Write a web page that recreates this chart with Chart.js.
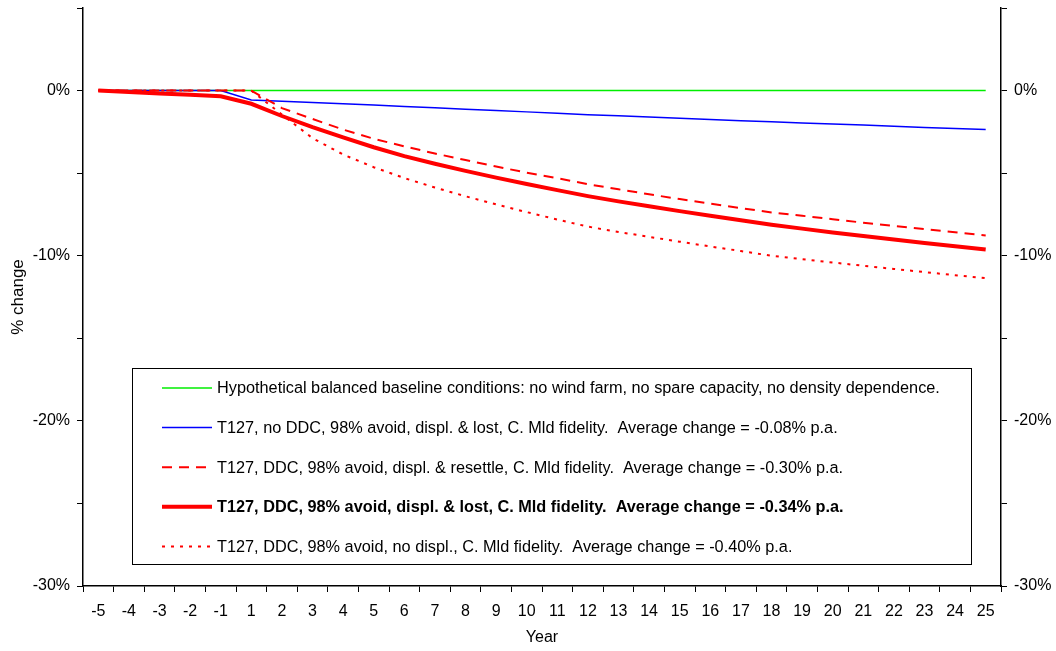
<!DOCTYPE html>
<html>
<head>
<meta charset="utf-8">
<script src="https://cdn.jsdelivr.net/npm/chart.js@4.4.1/dist/chart.umd.min.js"></script>
<style>
  html, body { margin: 0; padding: 0; background: #ffffff; }
  #wrap { width: 1056px; height: 651px; position: relative; }
</style>
</head>
<body>
<div id="wrap"><canvas id="c" width="1056" height="651"></canvas></div>
<script>
const years = ['-5','-4','-3','-2','-1','1','2','3','4','5','6','7','8','9','10','11','12','13','14','15','16','17','18','19','20','21','22','23','24','25'];

const baseline = [0,0,0,0,0, 0,0,0,0,0, 0,0,0,0,0, 0,0,0,0,0, 0,0,0,0,0, 0,0,0,0,0];

const noDdcLost = [0,0,0,0,0,
  -0.57,-0.65,-0.72,-0.80,-0.87,-0.96,-1.04,-1.13,-1.21,-1.29,-1.37,-1.46,
  -1.53,-1.60,-1.68,-1.75,-1.82,-1.89,-1.96,-2.03,-2.09,-2.16,-2.23,-2.29,-2.36];

const ddcResettle = [0,0,0,0,0,
  0,-1.06,-1.72,-2.36,-2.92,-3.38,-3.81,-4.21,-4.60,-4.97,-5.31,-5.67,
  -5.98,-6.28,-6.57,-6.85,-7.12,-7.38,-7.58,-7.79,-8.00,-8.20,-8.39,-8.58,-8.77];

const ddcLost = [0,-0.08,-0.17,-0.25,-0.34,
  -0.80,-1.54,-2.22,-2.84,-3.43,-3.97,-4.43,-4.86,-5.27,-5.66,-6.03,-6.39,
  -6.71,-7.01,-7.30,-7.58,-7.85,-8.12,-8.36,-8.59,-8.81,-9.02,-9.23,-9.43,-9.62];

const ddcNoDispl = [0,0,0,0,0,
  0,-1.45,-2.88,-3.87,-4.64,-5.30,-5.87,-6.40,-6.89,-7.36,-7.81,-8.24,
  -8.56,-8.86,-9.15,-9.44,-9.72,-10.00,-10.21,-10.41,-10.61,-10.80,-10.99,-11.18,-11.36];

const seriesLabels = [
  'Hypothetical balanced baseline conditions: no wind farm, no spare capacity, no density dependence.',
  'T127, no DDC, 98% avoid, displ. & lost, C. Mld fidelity.  Average change = -0.08% p.a.',
  'T127, DDC, 98% avoid, displ. & resettle, C. Mld fidelity.  Average change = -0.30% p.a.',
  'T127, DDC, 98% avoid, displ. & lost, C. Mld fidelity.  Average change = -0.34% p.a.',
  'T127, DDC, 98% avoid, no displ., C. Mld fidelity.  Average change = -0.40% p.a.'
];

const yTicksMin = -30, yTicksMax = 5, yStep = 5;

const FONT = '"Liberation Sans", Arial, Helvetica, sans-serif';

const legendBox = {
  id: 'legendBox',
  afterDatasetsDraw(chart) {
    const ctx = chart.ctx;
    const ca = chart.chartArea;
    const x0 = ca.left + 49, y0 = 368, x1 = ca.left + 888, y1 = 564;
    ctx.save();
    ctx.fillStyle = '#ffffff';
    ctx.fillRect(x0, y0, x1 - x0, y1 - y0);
    ctx.strokeStyle = '#000000';
    ctx.lineWidth = 1;
    ctx.strokeRect(x0 + 0.5, y0 + 0.5, x1 - x0, y1 - y0);
    chart.data.datasets.forEach((ds, i) => {
      const cy = 388 + i * 39.6;
      ctx.beginPath();
      ctx.strokeStyle = ds.borderColor;
      ctx.lineWidth = ds.borderWidth;
      ctx.setLineDash(ds.borderDash || []);
      ctx.moveTo(x0 + 30, cy);
      ctx.lineTo(x0 + 80, cy);
      ctx.stroke();
      ctx.setLineDash([]);
      ctx.fillStyle = '#000000';
      ctx.font = (ds.legendBold ? 'bold ' : '') + '16.3px ' + FONT;
      ctx.textBaseline = 'middle';
      ctx.textAlign = 'left';
      ctx.fillText(ds.label, x0 + 85, cy + 1);
    });
    ctx.restore();
  }
};

const yTickCb = v => (v % 10 === 0 ? (v === 0 ? '0%' : v + '%') : '');
const fitY = w => s => { s.width = w; s.paddingTop = 0; s.paddingBottom = 0; };

new Chart(document.getElementById('c'), {
  type: 'line',
  data: {
    labels: years,
    datasets: [
      { label: seriesLabels[0], data: baseline, borderColor: '#00ee00', borderWidth: 1.5, order: 5 },
      { label: seriesLabels[1], data: noDdcLost, borderColor: '#0000ff', borderWidth: 1.5, order: 4 },
      { label: seriesLabels[2], data: ddcResettle, borderColor: '#ff0000', borderWidth: 2, borderDash: [10, 7], order: 3 },
      { label: seriesLabels[3], data: ddcLost, borderColor: '#ff0000', borderWidth: 4, order: 2, legendBold: true },
      { label: seriesLabels[4], data: ddcNoDispl, borderColor: '#ff0000', borderWidth: 2, borderDash: [3, 6], order: 1 }
    ]
  },
  options: {
    responsive: false,
    animation: false,
    devicePixelRatio: 1,
    layout: { padding: { top: 8, left: 0, right: 0, bottom: 0 } },
    elements: { point: { radius: 0 }, line: { tension: 0, fill: false, borderCapStyle: 'butt' } },
    plugins: { legend: { display: false }, tooltip: { enabled: false } },
    scales: {
      x: {
        type: 'category',
        offset: true,
        grid: { display: true, drawOnChartArea: false, drawTicks: true, tickLength: 6, color: '#000', offset: true },
        border: { display: true, color: '#000', width: 1.5 },
        ticks: { color: '#000', font: { family: FONT, size: 16 }, padding: 10, maxRotation: 0, autoSkip: false },
        title: { display: true, text: 'Year', color: '#000', font: { family: FONT, size: 16 }, padding: { top: 0, bottom: 4 } },
        afterFit: s => { s.height = 65; s.paddingLeft = 0; s.paddingRight = 0; }
      },
      y: {
        position: 'left',
        min: yTicksMin, max: yTicksMax,
        grid: { display: true, drawOnChartArea: false, drawTicks: true, tickLength: 6, color: '#000' },
        border: { display: true, color: '#000', width: 1.5 },
        ticks: { stepSize: yStep, color: '#000', font: { family: FONT, size: 16 }, padding: 7, callback: yTickCb },
        title: { display: true, text: '% change', color: '#000', font: { family: FONT, size: 17 }, padding: { top: 8, bottom: 0 } },
        afterFit: fitY(83)
      },
      y2: {
        position: 'right',
        min: yTicksMin, max: yTicksMax,
        grid: { display: true, drawOnChartArea: false, drawTicks: true, tickLength: 6, color: '#000' },
        border: { display: true, color: '#000', width: 1.5 },
        ticks: { stepSize: yStep, color: '#000', font: { family: FONT, size: 16 }, padding: 7, callback: yTickCb },
        afterFit: fitY(55)
      }
    }
  },
  plugins: [legendBox]
});
</script>
</body>
</html>
